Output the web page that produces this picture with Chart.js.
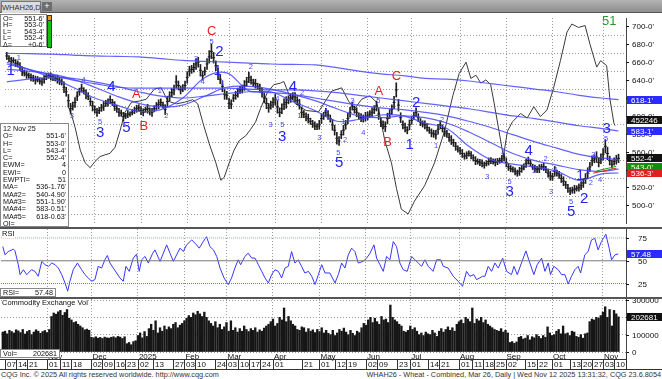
<!DOCTYPE html>
<html><head><meta charset="utf-8">
<script src="https://cdn.jsdelivr.net/npm/chart.js@4.4.1/dist/chart.umd.min.js"></script>
<style>
html,body{margin:0;padding:0;background:#fff;width:662px;height:379px;overflow:hidden;font-family:Arial,"Liberation Sans",sans-serif;}
#wrap{position:relative;width:662px;height:379px;}
canvas{position:absolute;left:0;}
.tabbar{position:absolute;left:0;top:0;width:662px;height:12px;background:linear-gradient(#b4b4b4,#8e8e8e);border-bottom:1px solid #555;}
.tab{position:absolute;left:1px;top:1px;width:38px;height:11px;background:#dcdcdc;border:1px solid #777;border-bottom:none;font-size:7.5px;line-height:11px;text-align:center;color:#333;}
.plus{position:absolute;left:42px;top:2px;width:10px;height:9px;background:#6e6e6e;color:#fff;font-size:9px;line-height:9px;text-align:center;}
.div{position:absolute;left:0;width:662px;height:2px;background:#555;}
.info{position:absolute;background:#fff;border:1px solid #888;font-size:7.2px;line-height:7.3px;color:#111;padding:0 2px;box-sizing:border-box;}
.row{display:flex;justify-content:space-between;white-space:pre;}
.lbl{position:absolute;font-size:7.5px;color:#111;background:#fff;line-height:8px;white-space:pre;}
.foot{position:absolute;top:370px;font-size:7.3px;color:#333;white-space:pre;}
#ewpti{position:absolute;left:602px;top:13px;font-size:13px;color:#2a9a2a;}
.gbar{position:absolute;left:47px;top:15px;width:3px;height:31px;background:#10c010;border:1px solid #333;}
.gtop{position:absolute;left:47px;top:15px;width:3px;height:4px;background:#e0a020;border:1px solid #333;}
</style></head>
<body><div id="wrap">
<div class="tabbar"><div class="tab">WHAH26,D</div><div class="plus">+</div></div>
<canvas id="cMain" width="662" height="215" style="top:13px;width:662px;height:215px"></canvas>
<canvas id="cRsi" width="662" height="70" style="top:228px;width:662px;height:70px"></canvas>
<canvas id="cVol" width="662" height="72" style="top:298px;width:662px;height:72px"></canvas>
<div class="div" style="top:227px"></div>
<div class="div" style="top:297px"></div>
<div class="info" style="left:0;top:14px;width:47px;height:33px;line-height:6.4px;padding-top:1px">
<div class="row"><span>O=</span><span>551-6'</span></div>
<div class="row"><span>H=</span><span>553-0'</span></div>
<div class="row"><span>L=</span><span>543-4'</span></div>
<div class="row"><span>L=</span><span>552-4'</span></div>
<div class="row"><span>Δ=</span><span>+0-6'</span></div>
</div>
<div class="gbar"></div><div class="gtop"></div>
<div class="info" style="left:0;top:123px;width:69px;height:104px;padding-top:1px">
<div class="row"><span>12 Nov 25</span><span></span></div>
<div class="row"><span>O=</span><span>551-6'</span></div>
<div class="row"><span>H=</span><span>553-0'</span></div>
<div class="row"><span>L=</span><span>543-4'</span></div>
<div class="row"><span>C=</span><span>552-4'</span></div>
<div class="row"><span>EWM=</span><span>4</span></div>
<div class="row"><span>EWI=</span><span>0</span></div>
<div class="row"><span>EWPTI=</span><span>51</span></div>
<div class="row"><span>MA=</span><span>536-1.76'</span></div>
<div class="row"><span>MA#2=</span><span>540-4.90'</span></div>
<div class="row"><span>MA#3=</span><span>551-1.90'</span></div>
<div class="row"><span>MA#4=</span><span>583-0.51'</span></div>
<div class="row"><span>MA#5=</span><span>618-0.63'</span></div>
<div class="row"><span>OI=</span><span></span></div>
</div>
<div id="ewpti">51</div>
<div class="lbl" style="left:2px;top:230px">RSI</div>
<div class="info" style="left:0;top:288px;width:56px;height:9px;line-height:8px"><div class="row"><span>RSI=</span><span>57.48</span></div></div>
<div class="lbl" style="left:2px;top:299px">Commodity Exchange Vol</div>
<div class="info" style="left:0;top:349px;width:60px;height:9px;line-height:8px"><div class="row"><span>Vol=</span><span>202681</span></div></div>
<div class="foot" style="left:1px">CQG Inc. © 2025 All rights reserved worldwide. http://www.cqg.com</div>
<div class="foot" style="right:1px">WHAH26 - Wheat - Combined, Mar 26, Daily | Wed Nov 12 2025 13:31:32, CQG 23.6.8054</div>
</div>
<script>
// ===== DATA =====
const closes=[
667,664,661,662,659,658,655,650,648,646,
645,643,642,640,641,639,638,641,644,645,
644,643,642,641,639,638,632,627,617,608,
611,615,622,627,631,628,624,622,616,611,
607,604,606,609,611,614,615,618,615,611,
608,604,603,599,600,602,602,604,606,608,
609,606,604,607,608,605,604,608,611,613,
615,612,607,616,622,626,629,638,634,629,
631,634,643,650,652,654,658,660,651,645,
650,658,666,672,665,656,647,641,633,624,
623,614,613,620,623,626,629,630,634,638,
643,640,637,636,633,631,626,620,614,609,
612,615,618,610,604,608,613,615,618,620,
622,621,617,613,604,602,599,597,594,591,
589,588,590,597,600,604,601,597,590,584,
575,572,579,584,590,597,604,611,607,604,
600,598,597,599,600,602,604,607,611,602,
593,590,588,597,602,607,615,629,612,598,
590,587,584,590,595,600,604,598,593,591,
590,587,584,581,580,579,585,590,586,582,
580,576,573,570,566,563,561,558,555,556,
558,556,553,550,549,548,547,545,547,549,
550,549,548,549,550,552,554,548,543,541,
540,538,536,538,541,543,547,550,547,543,
541,540,541,543,543,540,536,533,532,538,
536,534,530,527,523,519,516,517,518,519,
520,522,525,530,536,543,550,552,554,548,
552,557,566,558,550,546,549,551,552.5];
const barRange=[
8,7,9,6,8,7,9,10,7,8, 6,8,7,9,6,7,8,9,7,6, 8,7,6,9,8,7,12,10,14,12,
9,11,10,8,9,7,10,8,9,11, 8,9,7,8,10,7,8,9,7,10, 8,9,7,10,6,8,5,6,7,8,
7,9,8,6,10,8,9,7,8,10, 8,7,11,12,10,9,11,14,10,9, 8,10,13,11,9,10,12,11,13,10,
9,12,14,16,12,11,13,10,12,11, 9,12,10,8,9,10,8,9,11,10, 12,9,8,10,7,9,10,11,12,10,
9,11,12,14,10,11,12,13,9,10, 8,10,9,11,12,8,9,10,7,8, 9,7,10,11,8,9,10,8,12,11,
13,10,9,11,10,12,11,9,8,10, 7,9,8,10,9,8,10,9,11,12, 10,9,11,12,10,11,14,16,13,11,
9,10,8,11,9,8,10,9,8,7, 9,8,7,9,8,10,11,9,8,10, 8,9,10,8,9,7,8,9,7,8,
6,8,7,9,6,7,8,7,6,8, 7,6,8,7,6,8,9,10,8,7, 6,8,7,9,8,7,9,8,7,6,
8,7,9,6,8,7,9,10,8,11, 7,8,9,10,8,9,8,7,9,6, 8,9,10,11,12,10,11,9,12,10,
11,13,15,14,10,9,8,10,9.5];
const volK=[
115,120,105,125,118,110,128,122,112,130,
104,118,125,100,115,128,120,108,118,124,
112,130,205,225,218,232,240,212,228,245,
195,185,170,175,160,150,140,128,132,125,
85,82,88,80,84,78,86,82,80,85,
88,82,90,86,78,88,48,55,42,60,
65,95,110,82,118,90,135,160,125,180,
110,140,120,150,130,145,135,160,170,140,
155,165,180,195,210,200,225,215,235,220,
205,230,200,180,165,150,175,140,160,130,
145,170,120,180,125,140,115,135,120,150,
130,118,135,125,140,115,128,120,138,150,
160,175,190,150,165,200,185,254,175,205,
180,160,150,130,125,145,140,115,135,120,
128,112,130,118,140,110,125,108,100,125,
95,110,130,120,138,115,100,125,108,95,
120,112,140,165,155,185,200,170,195,175,
160,205,185,190,170,271,200,185,175,160,
150,120,115,125,150,130,140,120,100,110,
95,115,105,100,125,110,90,120,135,115,
130,145,125,140,120,160,175,185,165,200,
190,175,254,165,190,180,200,170,185,160,
150,140,130,125,120,135,115,125,110,55,
60,50,58,85,90,75,80,95,70,88,
82,100,90,78,95,85,145,110,95,100,
120,130,105,150,105,110,95,120,115,90,
85,100,80,105,110,175,190,185,200,195,
210,230,261,200,245,150,240,220,202.681];
const rsiPts=[[0,65.6],[1,56.5],[2.5,60.1],[4.8,62.7],[5.5,60.9],[7,45.7],[7.8,34.8],[9.3,40.2],[10.8,34.8],[13,40.2],[14.5,38.4],[16,33],[17.6,49.3],[19.1,45.7],[20.6,43.9],[22.1,47.5],[23.6,45.7],[25.1,42],[26.6,34.8],[28.1,25.7],[29.3,16.7],[30.3,27.5],[31.8,40.2],[33.7,47.5],[35.6,40.2],[37.1,34.8],[38.6,31.2],[40.1,27.5],[41.6,29.4],[43.1,43.9],[44.6,42],[46.1,51.1],[47.2,55.8],[48.4,47.5],[49.9,42],[51.4,36.6],[52.9,31.2],[54.4,27.5],[55.6,43.9],[57.1,38.4],[58.9,52.9],[60.4,57.2],[61.6,38.4],[62.7,51.1],[64.2,54.7],[65.7,47.5],[67.7,58.3],[68.7,61.9],[71,49.3],[72.5,58.3],[74,67.4],[75.5,58.3],[77,49.3],[78.5,56.5],[80,63.8],[81.5,60.1],[83,67.4],[85.3,72.8],[87.5,67.4],[88.7,63.8],[90.5,71],[92,76.4],[93.5,65.6],[95.1,61.9],[96.6,54.7],[98.1,42],[99.9,31.2],[101.8,23.9],[103.3,31.2],[104.8,42],[106.3,51.1],[107.4,45.7],[109.3,54.7],[110.8,58.3],[112.4,52.9],[113.9,52.9],[115.4,45.7],[116.9,38.4],[118.4,31.2],[119.9,25.7],[121.4,34.8],[122.9,40.2],[124.4,38.4],[125.9,31.2],[127.4,42],[128.9,43.9],[130.4,60.1],[131.9,47.5],[133.4,51.1],[134.9,43.9],[136.4,36.6],[138,38.4],[139.5,33],[141,23.9],[142.5,34.8],[144,45.7],[145.5,36.6],[147.7,36.6],[150,25.7],[151.5,34.8],[153,47.5],[154.5,42],[156,56.5],[157.5,63.8],[159,60.1],[160.5,47.5],[162.7,49.3],[164.3,52.9],[165.8,58.3],[167.6,67.4],[168.8,52.9],[170.3,45.7],[171.8,38.4],[173.3,54.7],[174.8,51.1],[176.3,71],[177.8,65.6],[179.3,47.5],[180.8,40.2],[182.6,38.4],[184.6,54.7],[186.1,51.1],[187.6,47.5],[189.1,43.9],[190.6,51.1],[192.1,43.9],[194.3,38.4],[195.9,51.1],[197.7,51.1],[198.9,43.9],[201.1,42],[203.4,33],[205.6,27.5],[207.6,22],[209.4,38.4],[210.9,33],[212.7,34.8],[213.9,29.4],[215.4,31.2],[216.6,33],[217.7,33],[219.2,43.9],[220.7,38.4],[222.2,47.5],[223.7,42],[225.7,52.9],[227.5,38.4],[229.7,34.8],[230.8,43.9],[232.3,34.8],[234.2,47.5],[236.2,60.8],[238,47.5],[239.8,34.8],[241.3,45.7],[243.3,52.9],[244.8,38.4],[246.3,47.5],[247.3,34.8],[248.8,43.9],[250.8,40.2],[252.3,34.8],[253.8,34.8],[255.3,24.6],[256.8,33],[258.3,40.2],[259.8,43.9],[260.9,36.6],[262.8,56.5],[264.3,60.1],[265.8,72.8],[267.3,74.6],[268.8,61.9],[270.3,71],[272.3,79],[273.8,63.8],[274.9,51.1],[276.4,56.5],[277.9,57.48]];
const oscPts=[[28,57],[29.6,52],[31.1,45.8],[33.4,34],[35.6,27.3],[37.9,24.7],[40.1,28],[42.4,30.6],[44.6,31.5],[46.9,32.3],[49.2,35.5],[51.4,44],[53.7,54],[56.7,59.4],[60.4,60],[63.4,61],[67.2,66.5],[70.2,67],[73.2,60],[77,58.5],[80.8,59.4],[84.5,60.7],[86.8,58.5],[89,49],[92,37.4],[95,27.3],[97.3,18],[98.8,19.6],[101.1,27.3],[103.3,34],[105.6,39],[108.6,41.6],[110.8,45],[113.1,49],[115.3,56],[118.4,64.5],[121.4,68.7],[124.4,69.5],[125.9,70.4],[128.2,63.6],[131.2,58.5],[136,55],[141.7,54.3],[147.7,65.3],[152.2,67],[155.3,60],[158.2,56],[161.3,61],[165,62.8],[168,59.4],[169.5,52.6],[171.8,39],[174.8,27.3],[177.1,13.7],[179.3,2.7],[182.4,0.2],[185.3,7],[189.9,15.2],[194.4,27.3],[198.9,44],[202.7,62.8],[205.6,74.6],[208.7,80.6],[210.9,72],[213.2,73.7],[215.4,69.5],[217.7,71.2],[219.9,68.7],[221.4,59.4],[223.7,44],[225.7,30.6],[227.5,44],[229.8,49],[233.5,53.4],[236.5,51],[239.5,57],[242.5,51.8],[245.5,55.3],[248.5,67],[251.6,81.4],[254.6,96.6],[256.8,100.8],[259.8,99],[262.8,100],[265.1,89.8],[268.1,78],[269.9,81.4],[272.6,78.8],[274.1,61],[275.9,48.4],[276.4,47]];
const maIdx=[0,10,20,30,40,50,60,70,80,90,100,110,120,130,140,150,160,170,180,190,200,210,220,230,240,250,260,270,278];
const ma1=[660,652,643,632,620,612,605,607,620,643,648,628,627,616,606,594,596,601,600,592,586,566,551,546,543,538,528,535,536.2];
const ma2=[652,650,647,641,632,622,614,610,612,622,632,633,630,624,617,608,600,598,600,598,592,582,570,558,550,545,540,538,540.5];
const ma3=[638,641,643,642,638,633,627,622,620,622,625,627,626,624,620,616,612,609,607,604,600,594,587,579,571,564,557,553,551.2];
const ma4=[658,652,646,640,636,632,631,631,631,631,631,630,629,629,628,626,623,620,617,614,611,608,604,600,597,593,589,586,583.1];
const ma5=[670,669.5,669,668,667,666.5,666,664,662,661,660,659,658,657.5,657,654,650,647,645,642,641,639,636,633,630,627,623,620,618.1];
const projGreen=[[268,538.5],[277,543.6]];
const projRed=[[266.5,536],[277,541.6]];
const ewBig=[[1.8,650.5,'1'],[47.6,632,'4'],[42.4,580.6,'3'],[54.4,586.8,'5'],[96.6,671.4,'2'],[95.8,650.5,'1'],[125.2,577,'3'],[130,632,'4'],[151,547.3,'5'],[183.1,567.4,'1'],[186.1,614.7,'2'],[228.5,515,'3'],[237.2,560.9,'4'],[256.5,492.9,'5'],[260.6,533,'1'],[262.4,507.2,'2'],[272.6,586,'3']];
const ewSmall=[[5.5,665,'1'],[29.6,600.4,'3'],[34.9,639.8,'4'],[42.4,593.2,'5'],[69.5,628.4,'1'],[72.5,600.4,'2'],[86,663.8,'3'],[89,638,'4'],[93.1,682.1,'5'],[98,637.3,'1'],[110.9,654.2,'2'],[119.9,590.3,'3'],[122.9,619.4,'4'],[125.2,589.6,'5'],[133.1,600.4,'1'],[134.2,626.2,'2'],[142,575.9,'3'],[145,605.8,'4'],[150.7,559.1,'5'],[153,593.2,'1'],[153.7,573.5,'2'],[157.1,616.6,'3'],[162,580.6,'4'],[168.8,616.6,'5'],[195.1,566.3,'1'],[197.8,595,'2'],[218.4,532.3,'3'],[225.7,559.1,'4'],[228.5,526.2,'5'],[239.5,538.7,'1'],[244.8,552,'2'],[247.4,515,'3'],[249.3,539.5,'4'],[256.4,504.3,'5'],[264.3,537.6,'1'],[265.4,525.2,'2'],[266.6,556.6,'3'],[269.6,528.7,'4'],[272.3,574.6,'5']];
const ewRed=[[58.9,624.4,'A'],[62.3,587.8,'B'],[93.1,694.3,'C'],[169.1,627.3,'A'],[173,569.9,'B'],[177.1,644.1,'C']];
const gridIdx=[20,40,61,82,101,122,143,164,184,206,227,248,271];
const dayTickIdx=[1,6,11,20,26,31,40,45,50,55,61,68,77,82,87,96,101,106,111,116,122,135,143,150,155,164,169,178,184,192,197,206,212,217,222,227,236,241,248,256,261,266,271,276];
const dayTickLbl=['07','14','21','01','11','18','02','09','16','23','02','13','27','03','10','24','03','10','17','24','01','21','01','12','19','02','09','23','01','14','21','01','11','18','25','02','15','22','01','13','20','27','03','10'];
const monthIdx=[20,40,61,82,101,122,143,164,184,206,227,248,271];
const monthLbl=['Nov','Dec','2025','Feb','Mar','Apr','May','Jun','Jul','Aug','Sep','Oct','Nov'];
const priceTicks=[500,520,540,560,580,600,620,640,660,680,700];
const priceGrid=[490,510,530,550,570,590,610,630,650,670,690];
const rsiTicks=[25,50,75];
const volTicksK=[0,100,200,300];
// price-axis value boxes: [value, text, kind]
const priceBoxes=[[618.1,"618-1'",'blue'],[595,'452246','black'],[583.1,"583-1'",'blue'],[552.5,"552-4'",'black'],[540.5,"540-4'",'blue'],[543.0,"543-0'",'green'],[536.3,"536-3'",'red']];

// ===== CONFIG =====
const X_MIN=-0.81, X_MAX=281.4;
const BLUE='rgba(70,70,255,0.85)';
const boxColors={blue:['#2b2bff','#fff'],black:['#111','#fff'],green:['#109010','#fff'],red:['#e02020','#fff']};
function xScale(){
  return {type:'linear',min:X_MIN,max:X_MAX,offset:false,
    ticks:{display:false},grid:{display:true,drawTicks:false,color:'#9a9a9a',offset:false},
    border:{display:false,dash:[1,2]},
    afterBuildTicks:s=>{s.ticks=gridIdx.map(v=>({value:v}));},
    afterFit:s=>{s.height=0;}};
}
function yRight(min,max,gridVals,showGrid){
  return {type:'linear',position:'right',min:min,max:max,
    afterBuildTicks:s=>{s.ticks=gridVals.map(v=>({value:v}));},
    afterFit:s=>{s.width=36;},
    ticks:{display:false},
    grid:{display:true,color:showGrid?'#9a9a9a':'rgba(0,0,0,0)',drawTicks:false},
    border:{display:true,color:'#444',width:1,dash:[1,2]}};
}
const baseOpts={responsive:false,animation:false,devicePixelRatio:1,events:[],
  plugins:{legend:{display:false},tooltip:{enabled:false}}};

function axisLabels(values,fmt,dx){
  return {id:'axisLabels',afterDraw(chart){
    const ctx=chart.ctx, ys=chart.scales.y, ca=chart.chartArea;
    ctx.save();ctx.font='8px Arial';ctx.fillStyle='#111';ctx.strokeStyle='#111';ctx.lineWidth=1;
    ctx.textAlign='left';ctx.textBaseline='middle';
    values.forEach(v=>{
      const y=Math.round(ys.getPixelForValue(v))+0.5;
      ctx.beginPath();ctx.moveTo(ca.right,y);ctx.lineTo(ca.right+3,y);ctx.stroke();
      ctx.fillText(fmt(v),ca.right+dx,y);
    });
    ctx.restore();
  }};
}
function valueBox(chart,value,text,kind,axis){
  const ctx=chart.ctx, ys=chart.scales[axis], ca=chart.chartArea;
  const y=Math.round(ys.getPixelForValue(value));
  const c=boxColors[kind];
  ctx.save();ctx.fillStyle=c[0];ctx.fillRect(ca.right+1,y-4,35,8);
  ctx.fillStyle=c[1];ctx.font='8px Arial';ctx.textAlign='left';ctx.textBaseline='middle';
  ctx.fillText(text,ca.right+5,y+0.5);ctx.restore();
}

const mainPlugin={id:'mainDeco',afterDatasetsDraw(chart){
  const ctx=chart.ctx, xs=chart.scales.x, ys=chart.scales.y;
  ctx.save();ctx.textAlign='center';ctx.textBaseline='middle';
  ctx.font='7.5px Arial';ctx.fillStyle='#4646ff';
  ewSmall.forEach(p=>ctx.fillText(p[2],xs.getPixelForValue(p[0]),ys.getPixelForValue(p[1])));
  ctx.font='15px Arial';ctx.fillStyle='#2424f0';
  ewBig.forEach(p=>ctx.fillText(p[2],xs.getPixelForValue(p[0]),ys.getPixelForValue(p[1])));
  ctx.font='13px Arial';ctx.fillStyle='#f02020';
  ewRed.forEach(p=>ctx.fillText(p[2],xs.getPixelForValue(p[0]),ys.getPixelForValue(p[1])));
  ctx.restore();
},afterDraw(chart){
  priceBoxes.forEach(b=>valueBox(chart,b[0],b[1],b[2],'y'));
}};

new Chart(document.getElementById('cMain'),{
  type:'bar',
  data:{datasets:[
    {type:'line',data:oscPts.map(p=>({x:p[0],y:p[1]})),yAxisID:'yo',borderColor:'#3a3a3a',borderWidth:1,pointRadius:0,tension:0,order:9},
    {type:'line',data:maIdx.map((x,i)=>({x:x,y:ma5[i]})),borderColor:BLUE,borderWidth:1.2,pointRadius:0,tension:0.35,order:3},
    {type:'line',data:maIdx.map((x,i)=>({x:x,y:ma4[i]})),borderColor:BLUE,borderWidth:1.2,pointRadius:0,tension:0.35,order:3},
    {type:'line',data:maIdx.map((x,i)=>({x:x,y:ma3[i]})),borderColor:BLUE,borderWidth:1.2,pointRadius:0,tension:0.35,order:3},
    {type:'line',data:maIdx.map((x,i)=>({x:x,y:ma2[i]})),borderColor:BLUE,borderWidth:1.2,pointRadius:0,tension:0.35,order:3},
    {type:'line',data:maIdx.map((x,i)=>({x:x,y:ma1[i]})),borderColor:BLUE,borderWidth:1.2,pointRadius:0,tension:0.35,order:3},
    {type:'line',data:projGreen.map(p=>({x:p[0],y:p[1]})),borderColor:'#10a010',borderWidth:1,pointRadius:0,order:2},
    {type:'line',data:projRed.map(p=>({x:p[0],y:p[1]})),borderColor:'#e02020',borderWidth:1,pointRadius:0,order:2},
    {type:'bar',data:closes.map((c,i)=>({x:i,y:[c-barRange[i]/2,c+barRange[i]/2]})),backgroundColor:'#1e1e1e',barThickness:1,grouped:false,order:5},
    {type:'line',showLine:false,data:closes.map((c,i)=>({x:i,y:c})),pointStyle:'line',pointRadius:1.5,borderColor:'#1e1e1e',borderWidth:1,order:5}
  ]},
  options:Object.assign({},baseOpts,{
    layout:{padding:{top:1,bottom:1,left:1,right:0}},
    scales:{
      x:xScale(),
      y:yRight(480.3,709.4,priceGrid,true),
      yo:{type:'linear',display:false,min:-4.6,max:104}
    }}),
  plugins:[axisLabels(priceTicks,v=>v+"-0'",6),mainPlugin]
});

new Chart(document.getElementById('cRsi'),{
  type:'line',
  data:{datasets:[
    {data:[{x:X_MIN,y:75},{x:X_MAX,y:75}],borderColor:'#ff8c8c',borderWidth:1,borderDash:[1,1],pointRadius:0},
    {data:[{x:X_MIN,y:50},{x:X_MAX,y:50}],borderColor:'#7a7a7a',borderWidth:1,pointRadius:0},
    {data:[{x:X_MIN,y:25},{x:X_MAX,y:25}],borderColor:'#6a6aff',borderWidth:1,borderDash:[1,1],pointRadius:0},
    {data:rsiPts.map(p=>({x:p[0],y:p[1]})),borderColor:'#3636ff',borderWidth:1,pointRadius:0,tension:0}
  ]},
  options:Object.assign({},baseOpts,{
    layout:{padding:{top:1,bottom:1,left:1,right:0}},
    scales:{x:xScale(),y:yRight(10.3,84.8,rsiTicks,false)}}),
  plugins:[axisLabels(rsiTicks,v=>String(v),12),{id:'rsiBox',afterDraw(chart){valueBox(chart,57.48,'57.48','blue','y');}}]
});

const volPlugin={id:'volDeco',afterDraw(chart){
  const ctx=chart.ctx, xs=chart.scales.x, ca=chart.chartArea;
  valueBox(chart,202.681,'202681','black','y');
  ctx.save();
  ctx.font='8px Arial';ctx.fillStyle='#111';ctx.textBaseline='top';ctx.textAlign='left';
  monthIdx.forEach((v,i)=>ctx.fillText(monthLbl[i],xs.getPixelForValue(v)+1,ca.bottom+0.5));
  ctx.strokeStyle='#333';ctx.lineWidth=1;
  ctx.beginPath();ctx.moveTo(0,ca.bottom+7.5);ctx.lineTo(ca.right,ca.bottom+7.5);ctx.stroke();
  ctx.beginPath();ctx.moveTo(0,ca.bottom+17.5);ctx.lineTo(662,ca.bottom+17.5);ctx.stroke();
  dayTickIdx.forEach((v,i)=>{
    const px=Math.round(xs.getPixelForValue(v))+0.5;
    ctx.beginPath();ctx.moveTo(px,ca.bottom+8);ctx.lineTo(px,ca.bottom+17);ctx.stroke();
    ctx.fillText(dayTickLbl[i],px+1.5,ca.bottom+9);
  });
  ctx.beginPath();ctx.moveTo(ca.right+0.5,ca.bottom);ctx.lineTo(ca.right+0.5,ca.bottom+17.5);ctx.stroke();
  ctx.restore();
}};
new Chart(document.getElementById('cVol'),{
  type:'bar',
  data:{datasets:[{data:volK.map((v,i)=>({x:i,y:v})),backgroundColor:'#161616',barThickness:1.7,grouped:false}]},
  options:Object.assign({},baseOpts,{
    layout:{padding:{top:1,bottom:18,left:1,right:0}},
    scales:{x:xScale(),y:yRight(0,305.8,volTicksK,true)}}),
  plugins:[axisLabels(volTicksK,v=>String(Math.round(v*1000)),6),volPlugin]
});
</script>
</body></html>
